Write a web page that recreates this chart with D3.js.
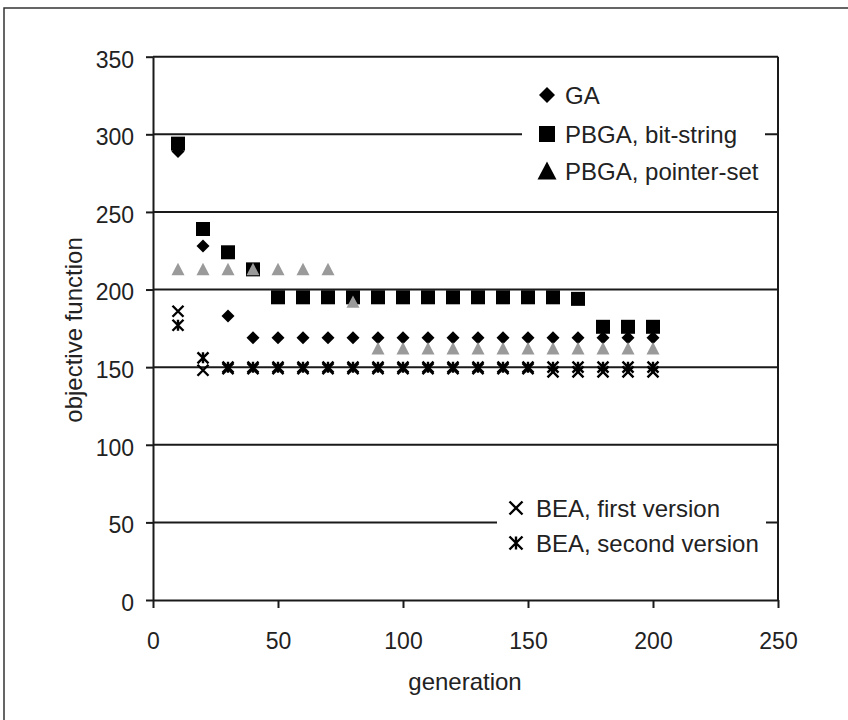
<!DOCTYPE html>
<html>
<head>
<meta charset="utf-8">
<script src="https://cdn.jsdelivr.net/npm/d3@7"></script>
<style>
  body { margin: 0; background: #fff; }
  text { font-family: "Liberation Sans", Arial, sans-serif; fill: #222; }
</style>
</head>
<body>
<script>
// chart values
const generations = [10, 20, 30, 40, 50, 60, 70, 80, 90, 100, 110, 120, 130, 140, 150, 160, 170, 180, 190, 200];
const gaValues = [289, 228, 183, 169, 169, 169, 169, 169, 169, 169, 169, 169, 169, 169, 169, 169, 169, 169, 169, 169];
const bitStringValues = [294, 239, 224, 213, 195, 195, 195, 195, 195, 195, 195, 195, 195, 195, 195, 195, 194, 176, 176, 176];
const pointerSetValues = [213, 213, 213, 213, 213, 213, 213, 192, 162, 162, 162, 162, 162, 162, 162, 162, 162, 162, 162, 162];
const beaFirstValues = [186, 148, 149, 149, 149, 149, 149, 149, 149, 149, 149, 149, 149, 149, 149, 147, 147, 147, 147, 147];
const beaSecondValues = [177, 156, 150, 150, 150, 150, 150, 150, 150, 150, 150, 150, 150, 150, 150, 150, 150, 150, 150, 150];
const xTicks = [0, 50, 100, 150, 200, 250];
const yTicks = [0, 50, 100, 150, 200, 250, 300, 350];

const WIDTH = 848, HEIGHT = 720;
const INK = "#1a1a1a";

const svg = d3.select("body").append("svg")
    .attr("width", WIDTH)
    .attr("height", HEIGHT);

// outer frame of the figure
svg.append("rect")
    .attr("x", 4).attr("y", 8)
    .attr("width", WIDTH + 20).attr("height", HEIGHT + 20)
    .attr("fill", "none")
    .attr("stroke", "#333")
    .attr("stroke-width", 1.5);

const x = d3.scaleLinear().domain([0, 250]).range([153, 778]);
const y = d3.scaleLinear().domain([0, 350]).range([600, 56.7]);

// gridlines
svg.append("g").selectAll("line")
    .data(yTicks.filter(d => d > 0))
    .enter().append("line")
      .attr("x1", x(0)).attr("x2", x(250))
      .attr("y1", d => y(d)).attr("y2", d => y(d))
      .attr("stroke", INK).attr("stroke-width", 2);

// right border of plot
svg.append("line")
    .attr("x1", x(250)).attr("x2", x(250))
    .attr("y1", y(350)).attr("y2", y(0))
    .attr("stroke", INK).attr("stroke-width", 2);

// axes
const yAxis = svg.append("g")
    .attr("transform", "translate(" + x(0) + ",0)")
    .call(d3.axisLeft(y).tickValues(yTicks).tickSize(7).tickPadding(12).tickSizeOuter(0));
yAxis.selectAll("text").attr("dy", "0.45em");

const xAxis = svg.append("g")
    .attr("transform", "translate(0," + y(0) + ")")
    .call(d3.axisBottom(x).tickValues(xTicks).tickSize(8).tickPadding(25).tickSizeOuter(0));

[yAxis, xAxis].forEach(g => {
  g.select(".domain").attr("stroke", INK).attr("stroke-width", 2);
  g.selectAll(".tick line").attr("stroke", INK).attr("stroke-width", 2);
  g.selectAll(".tick text")
    .style("font-family", "'Liberation Sans', Arial, sans-serif")
    .style("font-size", "23px")
    .attr("fill", INK);
});

// axis titles
svg.append("text")
    .attr("x", 465).attr("y", 690)
    .attr("text-anchor", "middle")
    .style("font-size", "24px")
    .text("generation");

svg.append("text")
    .attr("transform", "translate(82,330) rotate(-90)")
    .attr("text-anchor", "middle")
    .style("font-size", "24px")
    .text("objective function");

// marker shapes
function markerPath(type, s) {
  const h = s / 2;
  if (type === "diamond") return `M0,${-h}L${h},0L0,${h}L${-h},0Z`;
  if (type === "square") return `M${-h},${-h}H${h}V${h}H${-h}Z`;
  if (type === "triangle") return `M0,${-h}L${h},${h * 0.9}L${-h},${h * 0.9}Z`;
  if (type === "cross") return `M${-h},${-h}L${h},${h}M${-h},${h}L${h},${-h}`;
  if (type === "star") return `M${-h},${-h}L${h},${h}M${-h},${h}L${h},${-h}M0,${-h}V${h}`;
}

const series = [
  {name: "GA", values: gaValues, type: "diamond", size: 13, color: "#000"},
  {name: "PBGA, bit-string", values: bitStringValues, type: "square", size: 14, color: "#000"},
  {name: "PBGA, pointer-set", values: pointerSetValues, type: "triangle", size: 13, color: "#9a9a9a"},
  {name: "BEA, first version", values: beaFirstValues, type: "cross", size: 11, color: "#000"},
  {name: "BEA, second version", values: beaSecondValues, type: "star", size: 11, color: "#000"}
];

function styleMarker(sel, s) {
  const stroked = s.type === "cross" || s.type === "star";
  sel.attr("fill", stroked ? "none" : s.color)
     .attr("stroke", stroked ? s.color : "none")
     .attr("stroke-width", stroked ? 2.4 : 0);
}

series.forEach(s => {
  svg.append("g").selectAll("path")
    .data(generations.map((g, i) => ({g: g, v: s.values[i]})))
    .enter().append("path")
      .attr("d", markerPath(s.type, s.size))
      .attr("transform", d => "translate(" + x(d.g) + "," + y(d.v) + ")")
      .call(styleMarker, s);
});

// legends (white boxes over gridlines)
const topLegend = svg.append("g");
topLegend.append("rect")
    .attr("x", 522).attr("y", 76).attr("width", 243).attr("height", 114)
    .attr("fill", "#fff");
const topItems = [
  {s: series[0], y: 95, size: 16},
  {s: series[1], y: 134, size: 16},
  {s: series[2], y: 171, size: 19}
];
topItems.forEach(it => {
  topLegend.append("path")
    .attr("d", markerPath(it.s.type, it.size))
    .attr("transform", "translate(547," + it.y + ")")
    .call(styleMarker, Object.assign({}, it.s, {color: "#000"}));
  topLegend.append("text")
    .attr("x", 565).attr("y", it.y + 9)
    .style("font-size", "24px")
    .text(it.s.name);
});

const botLegend = svg.append("g");
botLegend.append("rect")
    .attr("x", 497).attr("y", 488).attr("width", 269).attr("height", 76)
    .attr("fill", "#fff");
const botItems = [
  {s: series[3], y: 508},
  {s: series[4], y: 543}
];
botItems.forEach(it => {
  botLegend.append("path")
    .attr("d", markerPath(it.s.type, 13))
    .attr("transform", "translate(516," + it.y + ")")
    .call(styleMarker, it.s);
  botLegend.append("text")
    .attr("x", 536).attr("y", it.y + 9)
    .style("font-size", "24px")
    .text(it.s.name);
});
</script>
</body>
</html>
